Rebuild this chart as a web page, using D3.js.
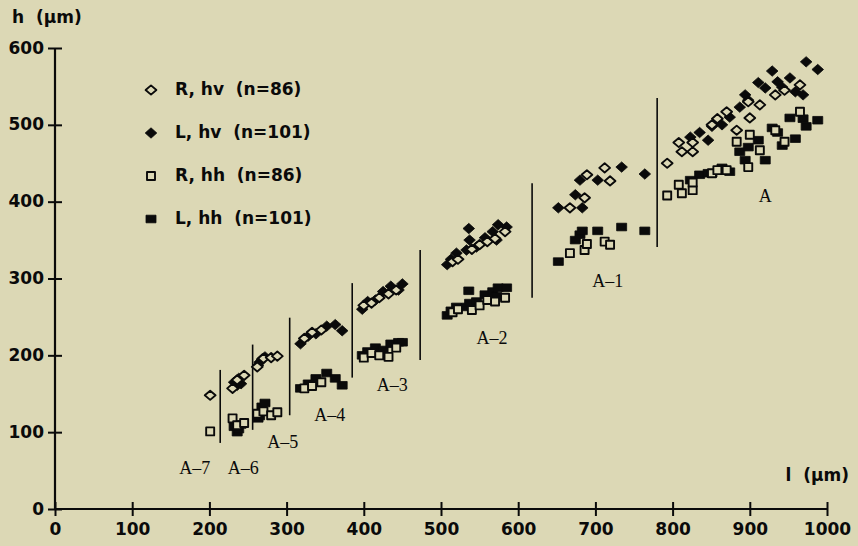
<!DOCTYPE html>
<html>
<head>
<meta charset="utf-8">
<script src="https://cdn.jsdelivr.net/npm/d3@7/dist/d3.min.js"></script>
<style>
  html, body { margin: 0; padding: 0; background: #dcd8b5; }
  svg { display: block; }
  .tick-label, .axis-title, .legend-text { font-family: "DejaVu Sans", sans-serif; font-weight: bold; fill: #0a0a0a; }
  .group-label { font-family: "Liberation Serif", "DejaVu Serif", serif; fill: #0a0a0a; }
</style>
</head>
<body>
<svg id="chart" width="858" height="546"></svg>
<script>
// Right-side specimens (n=86): body length l with hv and hh heights, grouped by stage
const rightL  = [201,
  230, 236, 245,
  262, 270, 280, 288,
  323, 333, 345,
  400, 410, 420, 432, 442,
  515, 522, 540, 550, 560, 570, 583,
  667, 686, 689, 712, 719,
  793, 808, 812, 826, 826, 851, 858, 870, 883, 898, 900, 913, 933, 945, 965];
const rightHv = [148,
  157, 168, 174,
  185, 196, 197, 199,
  222, 230, 233,
  265, 268, 275, 280, 285,
  322, 325, 338, 344, 348, 352, 361,
  392, 405, 435, 444, 427,
  450, 477, 465, 477, 465, 500, 508, 517, 493, 530, 509, 526, 539, 545, 552];
const rightHh = [101,
  118, 109, 112,
  124, 127, 122, 126,
  157, 160, 165,
  197, 203, 200, 198, 210,
  256, 260, 259, 265, 272, 270, 275,
  333, 337, 345, 348, 344,
  408, 422, 411, 415, 425, 437, 441, 441, 478, 445, 487, 467, 493, 478, 517];

// Left-side specimens (n=101)
const leftL  = [
  232, 236, 238, 241,
  263, 265, 268, 272,
  318, 328, 338, 352, 363, 372,
  398, 405, 415, 425, 435, 445, 450,
  508, 513, 520, 533, 536, 537, 546, 557, 567, 572, 574, 585,
  652, 674, 680, 683, 703, 734, 764,
  823, 835, 846, 851, 864, 874, 887, 894, 898, 911, 920, 929, 936, 942, 952, 959, 969, 973, 988];
const leftHv = [
  165, 161, 170, 163,
  187, 191, 195, 198,
  215, 225, 228, 238, 240, 232,
  260, 270, 272, 283, 290, 285, 293,
  318, 325, 333, 337, 365, 350, 341, 353, 361, 350, 370, 367,
  392, 409, 428, 392, 428, 445, 436,
  484, 490, 480, 498, 500, 510, 523, 539, 532, 555, 548, 570, 556, 549, 561, 543, 539, 582, 572];
const leftHh = [
  107, 100, 104, 110,
  118, 121, 133, 138,
  157, 163, 170, 177, 170, 161,
  200, 205, 210, 207, 215, 217, 217,
  252, 258, 263, 263, 284, 268, 270, 279, 283, 277, 288, 288,
  322, 350, 357, 362, 362, 367, 362,
  428, 435, 437, 437, 444, 439, 465, 454, 471, 480, 454, 496, 490, 473, 509, 482, 508, 498, 506];

// Stage dividers: l position and the h span each line covers
const dividerL    = [214, 256, 304, 385, 473, 618, 780];
const dividerLow  = [86, 103, 122, 171, 194, 275, 341];
const dividerHigh = [181, 214, 249, 294, 337, 424, 535];

// Stage names and where they sit
const stageNames = ["A-7", "A-6", "A-5", "A-4", "A-3", "A-2", "A-1", "A"];
const stageL     = [181, 244, 295, 356, 437, 566, 716, 920];
const stageH     = [51, 51, 85, 120, 159, 220, 294, 405];

const xTicks = [0, 100, 200, 300, 400, 500, 600, 700, 800, 900, 1000];
const yTicks = [0, 100, 200, 300, 400, 500, 600];

const legendLabels = ["R, hv  (n=86)", "L, hv  (n=101)", "R, hh  (n=86)", "L, hh  (n=101)"];
const legendKinds  = ["openDiamond", "fullDiamond", "openSquare", "fullSquare"];

const bg = "#dcd8b5";
const ink = "#0a0a0a";
const svg = d3.select("#chart");

const x = d3.scaleLinear().domain([0, 1000]).range([55, 827]);
const y = d3.scaleLinear().domain([0, 600]).range([509, 48]);

// marker shapes
function markerPath(kind) {
  if (kind === "openDiamond") return "M0,-4.6L5.4,0L0,4.6L-5.4,0Z";
  if (kind === "fullDiamond") return "M0,-5.2L5.8,0L0,5.2L-5.8,0Z";
  if (kind === "openSquare") return "M-4,-4H4V4H-4Z";
  return "M-5,-3.8H5V3.8H-5Z";
}
function styleMarker(sel, kind) {
  const open = kind.startsWith("open");
  sel.attr("d", markerPath(kind))
     .attr("fill", open ? bg : ink)
     .attr("stroke", ink)
     .attr("stroke-width", open ? 1.9 : 0.8)
     .attr("stroke-linejoin", "round");
}

// axes
const xAxis = d3.axisBottom(x).tickValues(xTicks).tickSize(0).tickFormat(d3.format("d"));
const gx = svg.append("g").attr("transform", `translate(0,${y(0)})`).call(xAxis);
gx.select(".domain").attr("stroke", ink).attr("stroke-width", 2.2).attr("d", `M${x(0)},0H${x(1000)}`);
gx.selectAll(".tick line").remove();
gx.selectAll(".tick").append("line").attr("y1", -7).attr("y2", 7).attr("stroke", ink).attr("stroke-width", 2);
gx.selectAll(".tick text").attr("class", "tick-label").attr("y", 21).attr("dy", "0").attr("font-size", 17)
  .attr("dominant-baseline", "middle").style("font-family", "'DejaVu Sans', sans-serif").style("font-weight", "bold");

const yAxis = d3.axisLeft(y).tickValues(yTicks).tickSize(0).tickFormat(d3.format("d"));
const gy = svg.append("g").attr("transform", `translate(${x(0)},0)`).call(yAxis);
gy.select(".domain").attr("stroke", ink).attr("stroke-width", 2.2).attr("d", `M0,${y(0)}V${y(600)}`);
gy.selectAll(".tick line").remove();
gy.selectAll(".tick").append("line").attr("x1", -7).attr("x2", 7).attr("stroke", ink).attr("stroke-width", 2);
gy.selectAll(".tick text").attr("class", "tick-label").attr("x", -11).attr("dy", "0").attr("font-size", 17)
  .attr("dominant-baseline", "middle").style("font-family", "'DejaVu Sans', sans-serif").style("font-weight", "bold");
svg.selectAll(".tick-label").attr("fill", ink);

// axis titles
svg.append("text").attr("class", "axis-title").attr("x", 12).attr("y", 18)
  .attr("font-size", 17).attr("dominant-baseline", "middle").attr("xml:space", "preserve").text("h  (µm)");
svg.append("text").attr("class", "axis-title").attr("x", 849).attr("y", 476)
  .attr("font-size", 17).attr("text-anchor", "end").attr("dominant-baseline", "middle").attr("xml:space", "preserve").text("l  (µm)");

// stage dividers
svg.append("g").selectAll("line").data(dividerL).join("line")
  .attr("x1", d => x(d)).attr("x2", d => x(d))
  .attr("y1", (d, i) => y(dividerHigh[i])).attr("y2", (d, i) => y(dividerLow[i]))
  .attr("stroke", ink).attr("stroke-width", 1.6);

// stage labels
svg.append("g").selectAll("text").data(stageNames).join("text")
  .attr("class", "group-label")
  .attr("x", (d, i) => x(stageL[i])).attr("y", (d, i) => y(stageH[i]))
  .attr("text-anchor", "middle").attr("dominant-baseline", "middle")
  .attr("font-size", 18).text(d => d.replace("-", "–"));

// scatter series: filled (left) first, open (right) on top
function plotSeries(ls, hs, kind) {
  svg.append("g").selectAll("path").data(ls).join("path")
    .attr("transform", (d, i) => `translate(${x(d)},${y(hs[i])})`)
    .call(styleMarker, kind);
}
plotSeries(leftL, leftHh, "fullSquare");
plotSeries(leftL, leftHv, "fullDiamond");
plotSeries(rightL, rightHh, "openSquare");
plotSeries(rightL, rightHv, "openDiamond");

// legend
const legendY = [90, 133, 176, 219];
const leg = svg.append("g");
leg.selectAll("path").data(legendKinds).join("path")
  .attr("transform", (d, i) => `translate(151,${legendY[i]})`)
  .each(function(d) { d3.select(this).call(styleMarker, d); });
leg.selectAll("text").data(legendLabels).join("text")
  .attr("class", "legend-text").attr("x", 175).attr("y", (d, i) => legendY[i])
  .attr("font-size", 17).attr("dominant-baseline", "middle").attr("xml:space", "preserve")
  .text(d => d);
</script>
</body>
</html>
